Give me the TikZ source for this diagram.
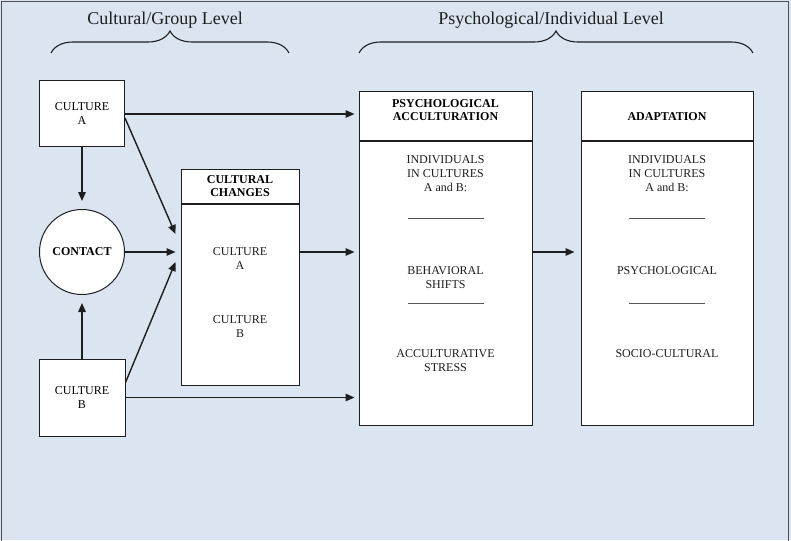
\documentclass[tikz,border=0pt]{standalone}
\usepackage{fontspec}
\setmainfont{Liberation Serif}
\usetikzlibrary{arrows.meta, positioning, calc, decorations.pathreplacing}
\definecolor{panel}{HTML}{DBE5F1}
\definecolor{frame}{HTML}{505050}
\definecolor{ink}{HTML}{1E1E1E}

\begin{document}
\begin{tikzpicture}[x=1pt, y=1pt, font=\fontsize{12}{14}\selectfont,
    box/.style={draw=ink, fill=white, line width=1pt, inner sep=0pt, align=center},
    head/.style={box, font=\fontsize{12}{13.5}\selectfont\bfseries},
    txt/.style={align=center, inner sep=0pt, text=ink},
    arr/.style={-{Triangle[length=9pt, width=7.5pt]}, line width=1.4pt, ink},
    divider/.style={line width=1.1pt, ink!75},
    level/.style={font=\fontsize{18}{22}\selectfont, text=ink},
    lvlbrace/.style={decorate, decoration={brace, amplitude=22pt}, line width=1.1pt, ink}]
  \useasboundingbox (0,0) rectangle (791,-540);
  \fill[panel] (0,0) rectangle (791,-540);
  \draw[frame, line width=1pt] (1,-545) |- (788,-2) -- (788,-545);

  % levels
  \node[level] (grouplvl) at (165,-20) {Cultural/Group Level};
  \node[level] (indlvl) at (551,-20) {Psychological/Individual Level};
  \draw[lvlbrace] (51,-53) -- (289,-53);
  \draw[lvlbrace] (359,-53) -- (753,-53);

  % group level
  \node[box, minimum width=85pt, minimum height=66pt] (cula) at (82,-114) {CULTURE\\A};
  \node[box, circle, minimum size=85pt, font=\fontsize{12}{14}\selectfont\bfseries] (contact) at (82,-252) {CONTACT};
  \node[box, minimum width=86pt, minimum height=77pt] (culb) at (82,-397.5) {CULTURE\\B};

  \node[head, minimum width=118pt, minimum height=34pt] (cchead) at (240,-186) {CULTURAL\\CHANGES};
  \node[box, minimum width=118pt, minimum height=181pt, anchor=north] (ccbody) at (cchead.south) {};
  \node[txt] (cca) at ($(ccbody.north)+(0,-55)$) {CULTURE\\A};
  \node[txt] (ccb) at ($(ccbody.north)+(0,-123.5)$) {CULTURE\\B};

  % individual level
  \node[head, minimum width=173pt, minimum height=49pt, text depth=13pt] (pahead) at (445.5,-116.5) {PSYCHOLOGICAL\\ACCULTURATION};
  \node[box, minimum width=173pt, minimum height=283pt, anchor=north] (pabody) at (pahead.south) {};
  \node[txt] (paind) at ($(pabody.north)+(0,-32)$) {INDIVIDUALS\\IN CULTURES\\A and B:};
  \node[txt] (pashift) at ($(pabody.north)+(0,-136)$) {BEHAVIORAL\\SHIFTS};
  \node[txt] (pastress) at ($(pabody.north)+(0,-219)$) {ACCULTURATIVE\\STRESS};
  \draw[divider] ($(pabody.north)+(-38,-77)$) -- ++(76,0);
  \draw[divider] ($(pabody.north)+(-38,-162)$) -- ++(76,0);

  \node[head, minimum width=172pt, minimum height=49pt] (adhead) at (667,-116.5) {ADAPTATION};
  \node[box, minimum width=172pt, minimum height=283pt, anchor=north] (adbody) at (adhead.south) {};
  \node[txt] (adind) at ($(adbody.north)+(0,-32)$) {INDIVIDUALS\\IN CULTURES\\A and B:};
  \node[txt] (adpsy) at ($(adbody.north)+(0,-129)$) {PSYCHOLOGICAL};
  \node[txt] (adsoc) at ($(adbody.north)+(0,-212)$) {SOCIO-CULTURAL};
  \draw[divider] ($(adbody.north)+(-38,-77)$) -- ++(76,0);
  \draw[divider] ($(adbody.north)+(-38,-162)$) -- ++(76,0);

  % connectors
  \coordinate (ina) at ($(contact.east -| ccbody.west)+(-5,18)$);
  \coordinate (inb) at ($(contact.east -| ccbody.west)+(-5,-10)$);
  \draw[arr, shorten >=8pt] (cula.south) -- (contact.north);
  \draw[arr, shorten >=8pt] (culb.north) -- (contact.south);
  \draw[arr] ($(cula.east)+(0,-4)$) -- (ina);
  \draw[arr, shorten >=5pt] (contact.east) -- (contact.east -| ccbody.west);
  \draw[arr] ($(culb.east)+(0,15)$) -- (inb);
  \draw[arr, shorten >=4pt] (cula.east) -- (cula.east -| pahead.west);
  \draw[arr, shorten >=4pt] (culb.east) -- (culb.east -| pabody.west);
  \draw[arr, shorten >=4pt] (contact.east -| ccbody.east) -- (contact.east -| pabody.west);
  \draw[arr, shorten >=6pt] (contact.east -| pabody.east) -- (contact.east -| adbody.west);
\end{tikzpicture}
\end{document}
